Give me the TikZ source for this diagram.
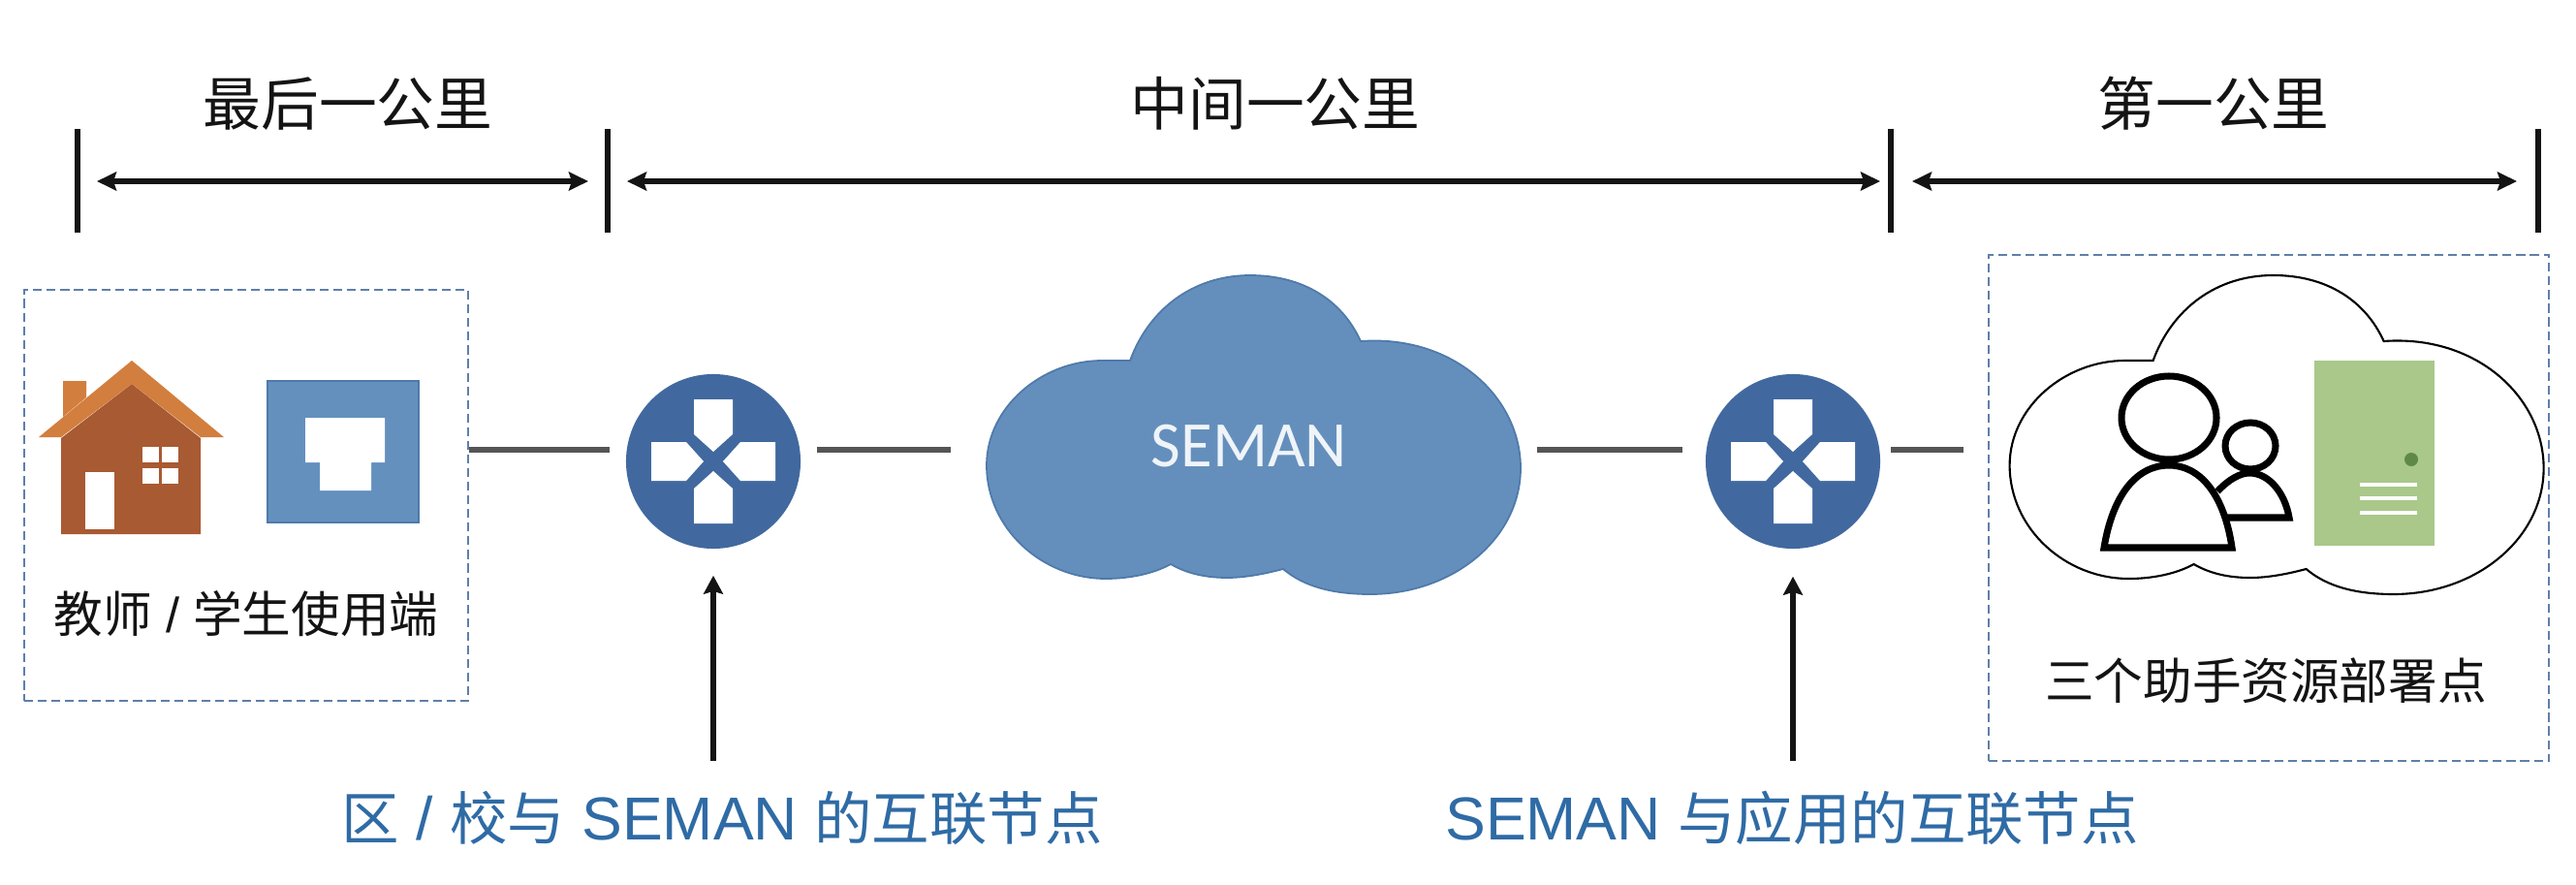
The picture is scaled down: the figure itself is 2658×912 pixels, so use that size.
\documentclass[tikz,border=0pt]{standalone}
\usepackage{fontspec}
\setmainfont{Liberation Sans}
\newfontfamily\cjk{Noto Sans CJK SC}
\newfontfamily\cloudfont{Carlito}
\usepackage{xcolor}
\usetikzlibrary{arrows.meta,positioning}
\definecolor{ink}{HTML}{141414}
\definecolor{wire}{HTML}{555555}
\definecolor{frame}{HTML}{5F7FA8}
\definecolor{routerblue}{HTML}{41699F}
\definecolor{cloudblue}{HTML}{648FBC}
\definecolor{cloudedge}{HTML}{4F7AAA}
\definecolor{panelblue}{HTML}{6490BE}
\definecolor{labelblue}{HTML}{2F6BA5}
\definecolor{brick}{HTML}{A85A32}
\definecolor{roof}{HTML}{D27E3E}
\definecolor{server}{HTML}{A9C88A}
\definecolor{serverdot}{HTML}{5F8A45}
\newcommand{\bluecjk}[1]{{\cjk\fontsize{16.9}{20}\selectfont #1}}
\newcommand{\cloudoutline}{(1166,372) .. controls (1185,320) and (1230,284) .. (1290,284)
  .. controls (1345,284) and (1385,310) .. (1404,352)
  .. controls (1500,345) and (1569,410) .. (1569,483)
  .. controls (1569,555) and (1500,613) .. (1414,613)
  .. controls (1375,613) and (1345,605) .. (1324,587)
  .. controls (1305,592) and (1285,596) .. (1266,596)
  .. controls (1245,596) and (1225,592) .. (1208,582)
  .. controls (1190,592) and (1165,597) .. (1141,597)
  .. controls (1075,597) and (1018,545) .. (1018,480)
  .. controls (1018,420) and (1075,372) .. (1137,372)
  .. controls (1148,372) and (1158,372) .. (1166,372) -- cycle}
\tikzset{
  pics/routerarms/.style={code={
    \foreach \ang in {0,90,180,270}
      \fill[white, rotate=\ang] (10,0) -- (28,20) -- (64,20) -- (64,-20) -- (28,-20) -- cycle;
  }}
}

\begin{document}
\begin{tikzpicture}[
  x=0.01cm, y=-0.01cm,
  bigcn/.style={font=\cjk\fontsize{17}{20}\selectfont, text=ink, inner sep=0pt},
  smallcn/.style={font=\fontsize{14.4}{17}\selectfont, text=ink, inner sep=0pt},
  bluecn/.style={font=\fontsize{17.8}{20}\selectfont, text=labelblue, inner sep=0pt},
  dashbox/.style={draw=frame, line width=0.6pt, dash pattern=on 2.6pt off 1.4pt, inner sep=0pt},
  router/.style={circle, fill=routerblue, minimum size=1.8cm, inner sep=0pt},
  dimarr/.style={{Stealth[length=2mm,width=1.9mm,inset=.3mm]}-{Stealth[length=2mm,width=1.9mm,inset=.3mm]}, line width=1.7pt, ink, shorten >=.2cm, shorten <=.2cm},
  endtick/.style={line width=1.8pt, ink},
  link/.style={line width=1.7pt, wire},
  uparr/.style={-{Stealth[length=1.9mm,width=2mm,inset=.3mm]}, line width=1.6pt, ink},
  person/.style={line width=2pt, black}
]
  \useasboundingbox (0,0) rectangle (2658,912);

  % span marks along the top
  \foreach \tickname/\xpos in {tickA/80,tickB/627,tickC/1951,tickD/2619} {
    \coordinate (\tickname) at (\xpos,187);
    \draw[endtick] (\xpos,133) -- (\xpos,240);
  }
  \draw[dimarr] (tickA) -- (tickB);
  \draw[dimarr, shorten >=.11cm] (tickB) -- (tickC);
  \draw[dimarr, shorten <=.22cm, shorten >=.22cm] (tickC) -- (tickD);
  \node[bigcn] (lastmile) at (359,107) {最后一公里};
  \node[bigcn] (midmile) at (1316,107) {中间一公里};
  \node[bigcn] (firstmile) at (2284,107) {第一公里};

  % user side
  \node[dashbox, minimum width=4.58cm, minimum height=4.24cm] (userbox) at (254,511) {};
  \fill[roof] (65,430) -- (65,393) -- (89,393) -- (89,410) -- cycle;
  \fill[brick] (63,551) -- (63,452) -- (136,396) -- (207,452) -- (207,551) -- cycle;
  \fill[roof] (40,451) -- (136,372) -- (231,451) -- (207,451) -- (136,396) -- (63,451) -- cycle;
  \fill[white] (88,487) rectangle (118,546);
  \foreach \wx in {147,167}
    \foreach \wy in {461,483}
      \fill[white] (\wx,\wy) rectangle ++(17,16);
  \fill[panelblue, draw=cloudedge] (276,393) rectangle (432,539);
  \fill[white] (315,431) -- (397,431) -- (397,477) -- (383,477) -- (383,506) -- (330,506) -- (330,477) -- (315,477) -- cycle;
  \node[smallcn] (userlabel) at (254,633) {{\cjk 教师} / {\cjk 学生使用端}};

  % routers
  \coordinate (wireline) at (0,464);
  \node[router] (routerA) at (736,476) {};
  \pic at (routerA) {routerarms};
  \node[router] (routerB) at (1850,476) {};
  \pic at (routerB) {routerarms};

  % SEMAN cloud, node only marks its extent
  \fill[cloudblue, draw=cloudedge, line width=0.5pt] \cloudoutline;
  \node[minimum width=5.51cm, minimum height=3.13cm, inner sep=0pt] (seman) at (1293,441) {};
  \node[font=\cloudfont\fontsize{19}{22}\selectfont, text=white!90!cloudblue, inner sep=0pt] (semanlabel) at (1289,460) {SEMAN};

  % resource side
  \node[dashbox, minimum width=5.78cm, minimum height=5.22cm] (sitebox) at (2341,524) {};
  \begin{scope}[xshift=10.55cm]
    \draw[black, line width=0.6pt] \cloudoutline;
  \end{scope}
  \node[minimum width=5.48cm, minimum height=3.28cm, inner sep=0pt] (sitecloud) at (2347,449) {};
  \draw[person] (2288,507) .. controls (2300,494) and (2312,488) .. (2321,488) .. controls (2342,488) and (2358,510) .. (2362,534) -- (2296,534);
  \draw[person] (2322,460) ellipse (26 and 24);
  \fill[white] (2238,431) ellipse (50 and 44);
  \draw[person] (2238,431) ellipse (49 and 43);
  \fill[white] (2171,565) .. controls (2180,510) and (2205,480) .. (2238,480) .. controls (2270,480) and (2295,510) .. (2303,565) -- cycle;
  \draw[person] (2171,565) .. controls (2180,510) and (2205,480) .. (2238,480) .. controls (2270,480) and (2295,510) .. (2303,565) -- cycle;
  \fill[server] (2388,372) rectangle (2512,563);
  \fill[serverdot] (2488,474) circle (7);
  \foreach \ly in {500,514,529}
    \draw[white, line width=1.2pt] (2435,\ly) -- (2494,\ly);
  \node[smallcn, font=\cjk\fontsize{14.4}{17}\selectfont] (sitelabel) at (2338,702) {三个助手资源部署点};

  % links
  \draw[link] (userbox.east |- wireline) -- ([xshift=-.16cm]routerA.west |- wireline);
  \draw[link] ([xshift=.16cm]routerA.east |- wireline) -- ([xshift=-.36cm]seman.west |- wireline);
  \draw[link] ([xshift=.17cm]seman.east |- wireline) -- ([xshift=-.23cm]routerB.west |- wireline);
  \draw[link] ([xshift=.1cm]routerB.east |- wireline) -- ([xshift=-.46cm]sitecloud.west |- wireline);

  % callouts
  \node[bluecn] (callA) at (745,844) {\bluecjk{区} / \bluecjk{校与} SEMAN \bluecjk{的互联节点}};
  \node[bluecn] (callB) at (1849,844) {SEMAN \bluecjk{与应用的互联节点}};
  \draw[uparr] (736,785) -- ([yshift=-.27cm]routerA.south);
  \draw[uparr] (1850,785) -- ([yshift=-.28cm]routerB.south);
\end{tikzpicture}
\end{document}
